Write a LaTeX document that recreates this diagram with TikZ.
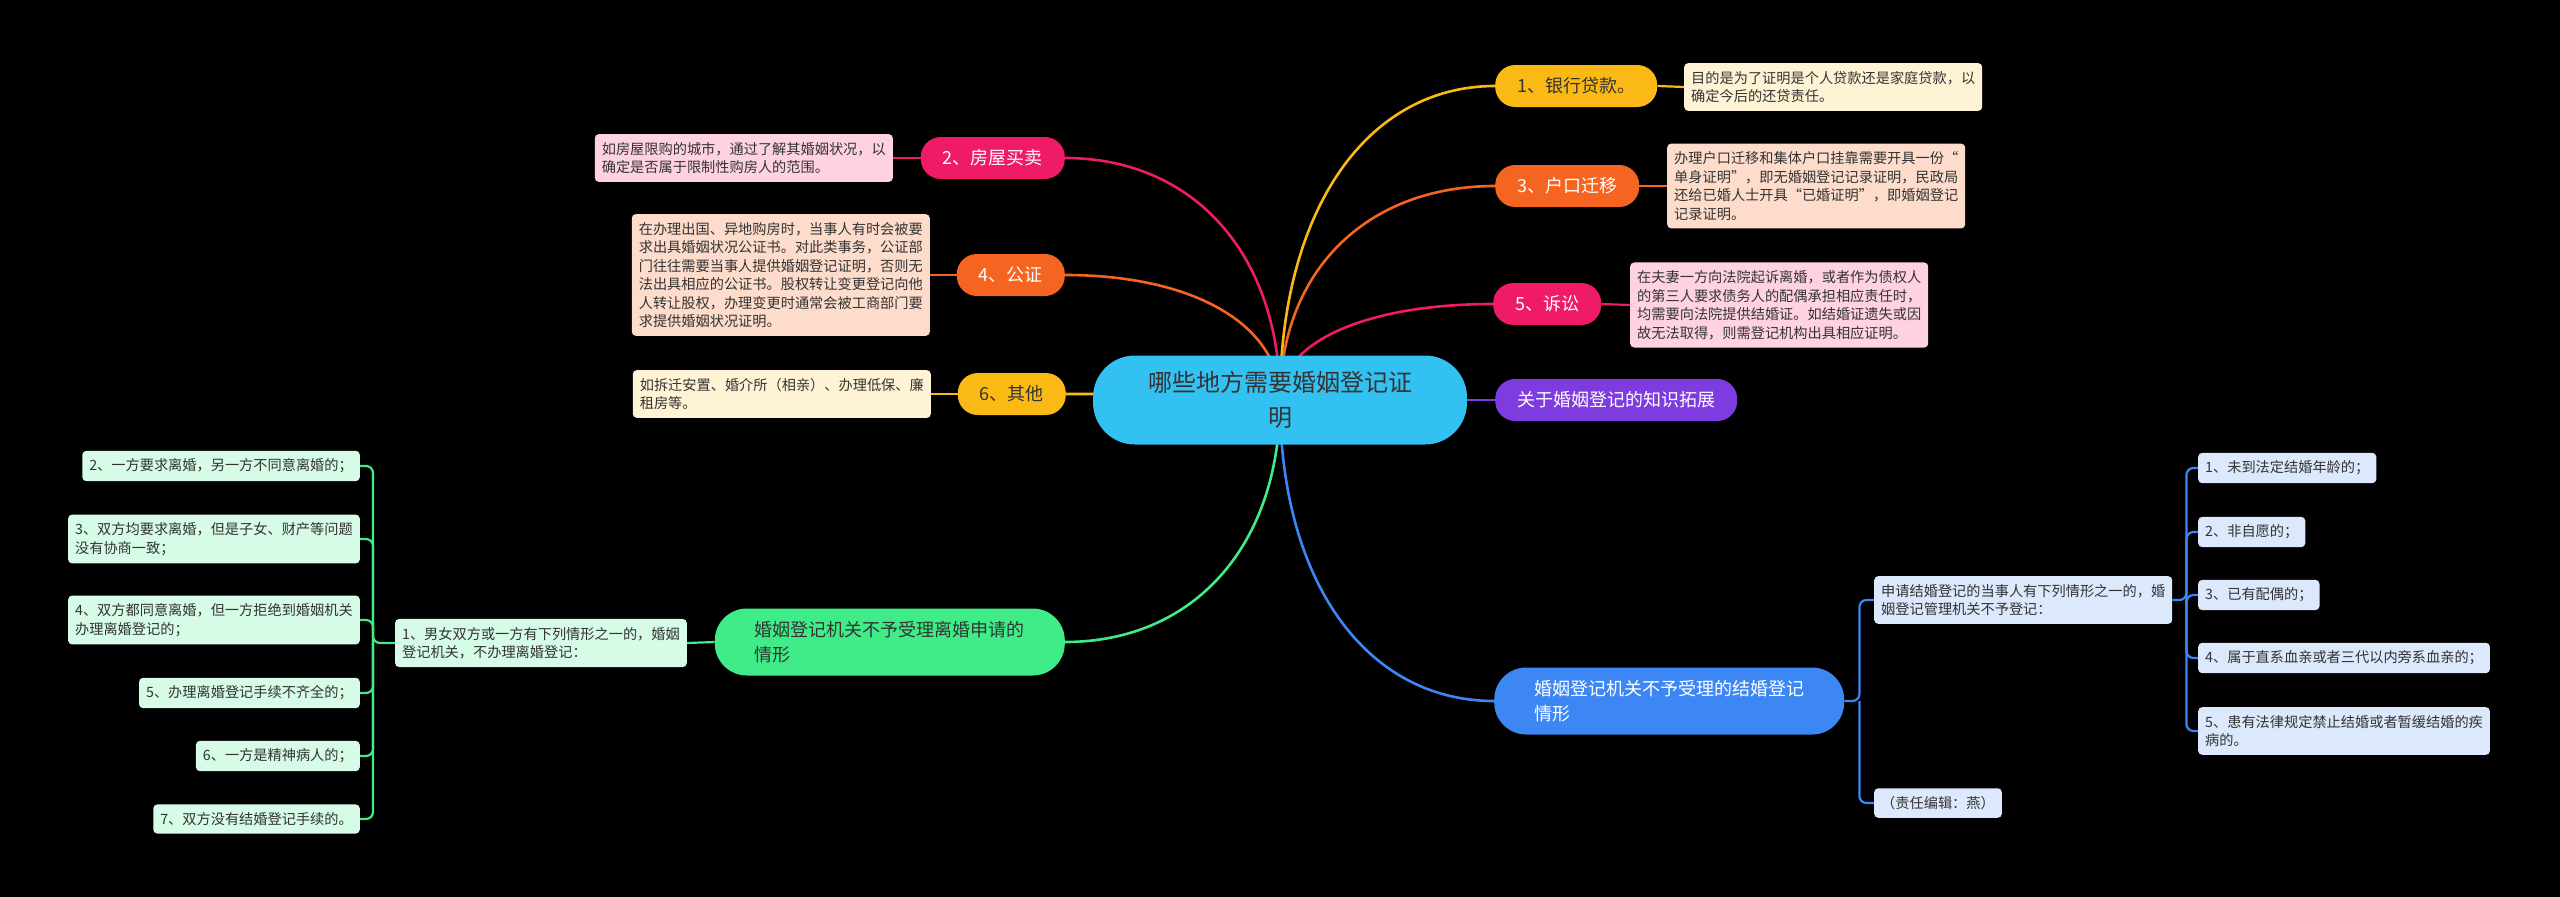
\documentclass[tikz,border=0pt]{standalone}
\usepackage{fontspec}
\setmainfont{Noto Sans CJK SC}
\usetikzlibrary{positioning,calc,backgrounds}

\definecolor{rootcol}{HTML}{33C1F1}
\definecolor{ambercol}{HTML}{FBB916}
\definecolor{orangecol}{HTML}{F66421}
\definecolor{pinkcol}{HTML}{EF1A68}
\definecolor{purplecol}{HTML}{7E3BE0}
\definecolor{bluecol}{HTML}{3D87F5}
\definecolor{greencol}{HTML}{3FEC87}
\definecolor{creamfill}{HTML}{FFF3D5}
\definecolor{peachfill}{HTML}{FDDCCB}
\definecolor{rosefill}{HTML}{FFD2E2}
\definecolor{mintfill}{HTML}{D6FBE6}
\definecolor{skyfill}{HTML}{DCE8FB}
\definecolor{inkcol}{HTML}{333333}

\begin{document}
\begin{tikzpicture}[x=1pt, y=-1pt,
    rootbox/.style={rectangle, rounded corners=42pt, fill=rootcol, text=inkcol, align=center, font=\fontsize{24}{35}\selectfont, minimum height=89pt, inner xsep=55pt},
    catbox/.style={rectangle, rounded corners=20pt, minimum height=42pt, inner xsep=22pt, font=\fontsize{18}{24}\selectfont},
    bigbox/.style={rectangle, rounded corners=32pt, minimum height=67pt, inner xsep=40pt, align=left, font=\fontsize{18}{25}\selectfont},
    descbox/.style={rectangle, rounded corners=4pt, align=left, text=inkcol, font=\fontsize{14.2}{18.5}\selectfont, inner xsep=7pt, inner ysep=8pt},
    branchline/.style={line width=2.6pt, to path={.. controls ($(\tikztostart)!0.6!(\tikztostart|-\tikztotarget)$) and ($(\tikztotarget)!0.6!(\tikztostart|-\tikztotarget)$) .. (\tikztotarget)}},
    link/.style={line width=2.2pt},
    bracket/.style={line width=2.2pt, rounded corners=7pt}]

    \useasboundingbox (0,0) rectangle (2560,897);

    % Root
    \node[rootbox] (root) at (1280,400) {哪些地方需要婚姻登记证\\明};

    % Right branches
    \node[catbox, fill=ambercol, text=inkcol, anchor=west] (loan) at (1495,86) {1、银行贷款。};
    \node[descbox, fill=creamfill, anchor=west] (loandesc) at (1684,87) {目的是为了证明是个人贷款还是家庭贷款，以\\确定今后的还贷责任。};

    \node[catbox, fill=orangecol, text=white, anchor=west] (hukou) at (1495,186) {3、户口迁移};
    \node[descbox, fill=peachfill, anchor=west] (hukoudesc) at (1667,186) {办理户口迁移和集体户口挂靠需要开具一份“\\单身证明”，即无婚姻登记记录证明，民政局\\还给已婚人士开具“已婚证明”，即婚姻登记\\记录证明。};

    \node[catbox, fill=pinkcol, text=white, anchor=west] (suit) at (1493,304) {5、诉讼};
    \node[descbox, fill=rosefill, anchor=west] (suitdesc) at (1630,305) {在夫妻一方向法院起诉离婚，或者作为债权人\\的第三人要求债务人的配偶承担相应责任时，\\均需要向法院提供结婚证。如结婚证遗失或因\\故无法取得，则需登记机构出具相应证明。};

    \node[catbox, fill=purplecol, text=white, anchor=west] (extra) at (1495,400) {关于婚姻登记的知识拓展};

    % Left branches
    \node[catbox, fill=pinkcol, text=white, anchor=east] (house) at (1065,158) {2、房屋买卖};
    \node[descbox, fill=rosefill, anchor=east] (housedesc) at (893,158) {如房屋限购的城市，通过了解其婚姻状况，以\\确定是否属于限制性购房人的范围。};

    \node[catbox, fill=orangecol, text=white, anchor=east] (notary) at (1065,275) {4、公证};
    \node[descbox, fill=peachfill, anchor=east] (notarydesc) at (930,275) {在办理出国、异地购房时，当事人有时会被要\\求出具婚姻状况公证书。对此类事务，公证部\\门往往需要当事人提供婚姻登记证明，否则无\\法出具相应的公证书。股权转让变更登记向他\\人转让股权，办理变更时通常会被工商部门要\\求提供婚姻状况证明。};

    \node[catbox, fill=ambercol, text=inkcol, anchor=east] (other) at (1066,394) {6、其他};
    \node[descbox, fill=creamfill, anchor=east] (otherdesc) at (931,394) {如拆迁安置、婚介所（相亲）、办理低保、廉\\租房等。};

    % Divorce cases (green)
    \node[bigbox, fill=greencol, text=inkcol, anchor=east] (divorce) at (1065,642) {婚姻登记机关不予受理离婚申请的\\情形};
    \node[descbox, fill=mintfill, anchor=east] (divsub) at (687,643) {1、男女双方或一方有下列情形之一的，婚姻\\登记机关，不办理离婚登记：};
    \node[descbox, fill=mintfill, anchor=east] (div2) at (360,466) {2、一方要求离婚，另一方不同意离婚的；};
    \node[descbox, fill=mintfill, anchor=east] (div3) at (360,539) {3、双方均要求离婚，但是子女、财产等问题\\没有协商一致；};
    \node[descbox, fill=mintfill, anchor=east] (div4) at (360,620) {4、双方都同意离婚，但一方拒绝到婚姻机关\\办理离婚登记的；};
    \node[descbox, fill=mintfill, anchor=east] (div5) at (360,693) {5、办理离婚登记手续不齐全的；};
    \node[descbox, fill=mintfill, anchor=east] (div6) at (360,756) {6、一方是精神病人的；};
    \node[descbox, fill=mintfill, anchor=east] (div7) at (360,819) {7、双方没有结婚登记手续的。};

    % Marriage cases (blue)
    \node[bigbox, fill=bluecol, text=white, anchor=west] (marry) at (1494,701) {婚姻登记机关不予受理的结婚登记\\情形};
    \node[descbox, fill=skyfill, anchor=west] (marsub) at (1874,600) {申请结婚登记的当事人有下列情形之一的，婚\\姻登记管理机关不予登记：};
    \node[descbox, fill=skyfill, anchor=west] (editor) at (1874,803) {（责任编辑：燕）};
    \node[descbox, fill=skyfill, anchor=west] (mar1) at (2198,468) {1、未到法定结婚年龄的；};
    \node[descbox, fill=skyfill, anchor=west] (mar2) at (2198,532) {2、非自愿的；};
    \node[descbox, fill=skyfill, anchor=west] (mar3) at (2198,595) {3、已有配偶的；};
    \node[descbox, fill=skyfill, anchor=west] (mar4) at (2198,658) {4、属于直系血亲或者三代以内旁系血亲的；};
    \node[descbox, fill=skyfill, anchor=west] (mar5) at (2198,731) {5、患有法律规定禁止结婚或者暂缓结婚的疾\\病的。};

    % Second level links
    \draw[link, ambercol] (loan.east) -- (loandesc.west);
    \draw[link, orangecol] (hukou.east) -- (hukoudesc.west);
    \draw[link, pinkcol] (suit.east) -- (suitdesc.west);
    \draw[link, pinkcol] (house.west) -- (housedesc.east);
    \draw[link, orangecol] (notary.west) -- (notarydesc.east);
    \draw[link, ambercol] (other.west) -- (otherdesc.east);

    % Brackets
    \coordinate (divjoint) at (373,643);
    \draw[link, greencol] (divorce.west) -- (divsub.east);
    \draw[bracket, greencol] (divsub.west) -- (divjoint) |- (div2.east);
    \draw[bracket, greencol] (divjoint) |- (div3.east);
    \draw[bracket, greencol] (divjoint) |- (div4.east);
    \draw[bracket, greencol] (divjoint) |- (div5.east);
    \draw[bracket, greencol] (divjoint) |- (div6.east);
    \draw[bracket, greencol] (divjoint) |- (div7.east);

    \coordinate (marjoint) at ($(marry.east)+(15,0)$);
    \draw[bracket, bluecol] (marry.east) -- (marjoint) |- (marsub.west);
    \draw[bracket, bluecol] (marjoint) |- (editor.west);
    \coordinate (subjoint) at ($(marsub.east)+(14,0)$);
    \draw[bracket, bluecol] (marsub.east) -- (subjoint) |- (mar1.west);
    \draw[bracket, bluecol] (subjoint) |- (mar2.west);
    \draw[bracket, bluecol] (subjoint) |- (mar3.west);
    \draw[bracket, bluecol] (subjoint) |- (mar4.west);
    \draw[bracket, bluecol] (subjoint) |- (mar5.west);

    % Background and main branches
    \begin{scope}[on background layer]
        \fill[black] (0,0) rectangle (2560,897);
        \draw[branchline, ambercol] (root.center) to (loan.west);
        \draw[branchline, orangecol] (root.center) to (hukou.west);
        \draw[branchline, pinkcol] (root.center) to (suit.west);
        \draw[branchline, purplecol] (root.center) to (extra.west);
        \draw[branchline, bluecol] (root.center) to (marry.west);
        \draw[branchline, pinkcol] (root.center) to (house.east);
        \draw[branchline, orangecol] (root.center) to (notary.east);
        \draw[branchline, ambercol] (root.center) to (other.east);
        \draw[branchline, greencol] (root.center) to (divorce.east);
    \end{scope}

\end{tikzpicture}
\end{document}
